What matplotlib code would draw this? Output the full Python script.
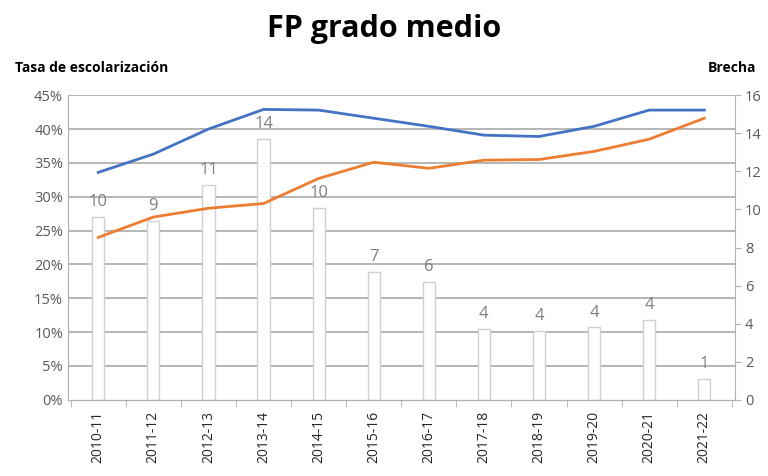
import matplotlib.pyplot as plt
import numpy as np

cursos = ["2010-11", "2011-12", "2012-13", "2013-14", "2014-15", "2015-16",
          "2016-17", "2017-18", "2018-19", "2019-20", "2020-21", "2021-22"]
tasa_azul = [33.6, 36.3, 40.0, 42.9, 42.8, 41.6, 40.4, 39.1, 38.9, 40.4, 42.8, 42.8]
tasa_naranja = [24.0, 27.0, 28.3, 29.0, 32.7, 35.1, 34.2, 35.4, 35.5, 36.7, 38.5, 41.6]
brecha = [9.6, 9.4, 11.3, 13.7, 10.1, 6.7, 6.2, 3.7, 3.6, 3.8, 4.2, 1.1]
brecha_etiquetas = ["10", "9", "11", "14", "10", "7", "6", "4", "4", "4", "4", "1"]

plt.rcParams["font.family"] = ["Open Sans", "DejaVu Sans"]
GRAY = "#595959"
GRID = "#b0b0b0"

fig = plt.figure(figsize=(7.68, 4.76), dpi=100)
ax = fig.add_axes([0.0885, 0.16, 0.868, 0.64])
ax2 = ax.twinx()

x = np.arange(len(cursos))

# bars on the right axis, behind the lines
ax2.bar(x, brecha, width=0.22, color="white", edgecolor="#d0d0d0", linewidth=1.0, zorder=1)
for xi, b, lab in zip(x, brecha, brecha_etiquetas):
    ax2.annotate(lab, (xi, b), xytext=(0, 5), textcoords="offset points",
                 ha="center", va="bottom", fontsize=12, color="#7f7f7f")
ax2.set_ylim(0, 16)
ax2.set_yticks(np.arange(0, 17, 2))
ax2.tick_params(axis="y", colors=GRAY, labelsize=10.5, length=4, color=GRID)

# lines on the left axis, drawn on top
ax.set_zorder(ax2.get_zorder() + 1)
ax.patch.set_visible(False)
ax.plot(x, tasa_azul, color="#4472c4", linewidth=2.0)
ax.plot(x, tasa_naranja, color="#ed7d31", linewidth=2.0)
ax.set_ylim(0, 45)
ax.set_yticks(np.arange(0, 46, 5))
ax.set_yticklabels([f"{v}%" for v in range(0, 46, 5)])
ax.tick_params(axis="y", colors=GRAY, labelsize=10.5, length=0)
ax.set_xlim(-0.55, len(cursos) - 0.45)
ax.set_xticks(x)
ax.set_xticklabels(cursos, rotation=90, fontsize=10, color="#262626")
ax.set_xticks(np.arange(-0.5, len(cursos)), minor=True)
ax.tick_params(axis="x", which="major", length=0, pad=8)
ax.tick_params(axis="x", which="minor", length=5, color=GRID)

# horizontal grid at the left-axis steps, drawn behind the bars
for v in range(5, 46, 5):
    ax2.axhline(v * 16 / 45, color=GRID, linewidth=1.3, zorder=0)

for a in (ax, ax2):
    a.spines["top"].set_visible(False)
    a.spines["left"].set_color(GRID)
    a.spines["right"].set_color(GRID)
    a.spines["bottom"].set_color(GRID)
ax2.spines["left"].set_visible(False)
ax.spines["right"].set_visible(False)

fig.text(0.5, 0.97, "FP grado medio", ha="center", va="top", fontsize=22, fontweight="bold")
fig.text(0.02, 0.843, "Tasa de escolarización", ha="left", va="bottom", fontsize=10, fontweight="bold")
fig.text(0.985, 0.843, "Brecha", ha="right", va="bottom", fontsize=10, fontweight="bold")

fig.savefig("out.png", dpi=100)
